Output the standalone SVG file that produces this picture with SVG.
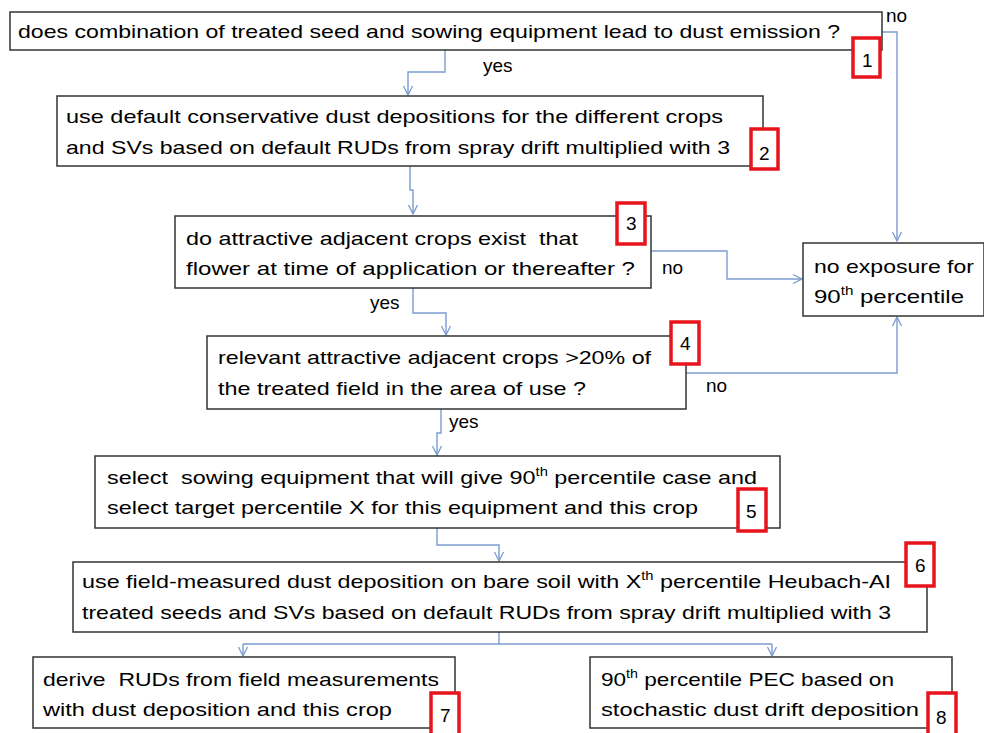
<svg xmlns="http://www.w3.org/2000/svg" width="984" height="733" viewBox="0 0 984 733">
<defs>
<marker id="arr" viewBox="-10 -5 11 10" refX="0" refY="0" markerWidth="11" markerHeight="10" orient="auto" markerUnits="userSpaceOnUse" overflow="visible">
<path d="M-9,-4.5 L0,0 L-9,4.5" fill="none" stroke="#7a9cd0" stroke-width="1.3"/>
</marker>
<style>
.box{fill:#fff;stroke:#333;stroke-width:1.5}
.num{fill:#fff;stroke:#e8141b;stroke-width:3.5}
text{font-family:"Liberation Sans",Arial,sans-serif;font-size:19px;fill:#000;white-space:pre}
.c{fill:none;stroke:#7a9cd0;stroke-width:1.4}
.sup{font-size:12px}
</style>
</defs>
<rect width="984" height="733" fill="#fff"/>

<g id="connectors">
<path class="c" d="M445,50 V72 H408 V95" marker-end="url(#arr)"/>
<path class="c" d="M882,32 H897 V241" marker-end="url(#arr)"/>
<path class="c" d="M410,166 V190 H413 V214" marker-end="url(#arr)"/>
<path class="c" d="M651,251 H727 V279 H802" marker-end="url(#arr)"/>
<path class="c" d="M413,288 V313 H446 V335" marker-end="url(#arr)"/>
<path class="c" d="M686,373 H897 V317" marker-end="url(#arr)"/>
<path class="c" d="M441,409 V433 H437 V455" marker-end="url(#arr)"/>
<path class="c" d="M437,528 V545 H499 V561" marker-end="url(#arr)"/>
<path class="c" d="M499,632 V644 M243,644 H772"/>
<path class="c" d="M243,644 V656" marker-end="url(#arr)"/>
<path class="c" d="M772,644 V656" marker-end="url(#arr)"/>
<text x="483" y="72">yes</text>
<text x="886" y="22">no</text>
<text x="662" y="274">no</text>
<text x="370" y="309">yes</text>
<text x="706" y="392">no</text>
<text x="449" y="428">yes</text>
</g>

<g id="n1">
<rect class="box" x="10" y="12" width="872" height="38"/>
<text x="18" y="38" textLength="822" lengthAdjust="spacingAndGlyphs">does combination of treated seed and sowing equipment lead to dust emission ?</text>
<rect class="num" x="853" y="38" width="27" height="39"/>
<text x="862" y="67">1</text>
</g>

<g id="n2">
<rect class="box" x="57" y="96" width="706" height="70"/>
<text x="66" y="123" textLength="657" lengthAdjust="spacingAndGlyphs">use default conservative dust depositions for the different crops</text>
<text x="66" y="154" textLength="664" lengthAdjust="spacingAndGlyphs">and SVs based on default RUDs from spray drift multiplied with 3</text>
<rect class="num" x="751" y="129" width="27" height="40"/>
<text x="759" y="160">2</text>
</g>

<g id="n3">
<rect class="box" x="175" y="216" width="476" height="72"/>
<text x="186" y="245" textLength="392" lengthAdjust="spacingAndGlyphs">do attractive adjacent crops exist  that</text>
<text x="186" y="275" textLength="449" lengthAdjust="spacingAndGlyphs">flower at time of application or thereafter ?</text>
<rect class="num" x="617" y="203" width="28" height="41"/>
<text x="626" y="230">3</text>
</g>

<g id="n4">
<rect class="box" x="207" y="336" width="479" height="73"/>
<text x="218" y="364" textLength="433" lengthAdjust="spacingAndGlyphs">relevant attractive adjacent crops &gt;20% of</text>
<text x="218" y="395" textLength="368" lengthAdjust="spacingAndGlyphs">the treated field in the area of use ?</text>
<rect class="num" x="671" y="322" width="28" height="42"/>
<text x="680" y="350">4</text>
</g>

<g id="nx">
<rect class="box" x="803" y="243" width="181" height="73"/>
<text x="814" y="273" textLength="160" lengthAdjust="spacingAndGlyphs">no exposure for</text>
<text x="814" y="303" textLength="150" lengthAdjust="spacingAndGlyphs">90<tspan class="sup" dy="-8">th</tspan><tspan dy="8"> percentile</tspan></text>
</g>

<g id="n5">
<rect class="box" x="95" y="456" width="685" height="72"/>
<text x="107" y="484" textLength="650" lengthAdjust="spacingAndGlyphs">select  sowing equipment that will give 90<tspan class="sup" dy="-8">th</tspan><tspan dy="8"> percentile case and</tspan></text>
<text x="107" y="514" textLength="591" lengthAdjust="spacingAndGlyphs">select target percentile X for this equipment and this crop</text>
<rect class="num" x="738" y="489" width="28" height="42"/>
<text x="746" y="518">5</text>
</g>

<g id="n6">
<rect class="box" x="73" y="562" width="854" height="70"/>
<text x="82" y="588" textLength="809" lengthAdjust="spacingAndGlyphs">use field-measured dust deposition on bare soil with X<tspan class="sup" dy="-8">th</tspan><tspan dy="8"> percentile Heubach-AI</tspan></text>
<text x="82" y="619" textLength="809" lengthAdjust="spacingAndGlyphs">treated seeds and SVs based on default RUDs from spray drift multiplied with 3</text>
<rect class="num" x="906" y="543" width="28" height="43"/>
<text x="915" y="572">6</text>
</g>

<g id="n7">
<rect class="box" x="33" y="657" width="422" height="71"/>
<text x="43" y="686" textLength="396" lengthAdjust="spacingAndGlyphs">derive  RUDs from field measurements</text>
<text x="43" y="716" textLength="349" lengthAdjust="spacingAndGlyphs">with dust deposition and this crop</text>
<rect class="num" x="431" y="693" width="28" height="42"/>
<text x="440" y="722">7</text>
</g>

<g id="n8">
<rect class="box" x="590" y="657" width="362" height="71"/>
<text x="601" y="686" textLength="293" lengthAdjust="spacingAndGlyphs">90<tspan class="sup" dy="-8">th</tspan><tspan dy="8"> percentile PEC based on</tspan></text>
<text x="601" y="716" textLength="318" lengthAdjust="spacingAndGlyphs">stochastic dust drift deposition</text>
<rect class="num" x="928" y="693" width="28" height="42"/>
<text x="936" y="724">8</text>
</g>
</svg>
